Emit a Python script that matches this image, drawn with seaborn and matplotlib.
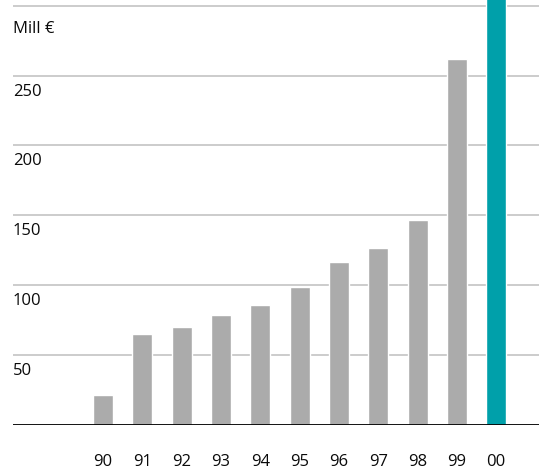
import matplotlib
matplotlib.use("Agg")
import matplotlib.pyplot as plt
import matplotlib.transforms as mtransforms
import seaborn as sns
import pandas as pd

# Annual values, Mill €
years = ["90", "91", "92", "93", "94", "95", "96", "97", "98", "99", "00"]
values = [22, 65, 70, 79, 86, 99, 117, 127, 147, 262, 340]
grid_values = [50, 100, 150, 200, 250, 300]
tick_labels = ["50", "100", "150", "200", "250"]
unit_label = "Mill €"

GRAY = "#ababab"
TEAL = "#00a0aa"
bar_colors = [GRAY] * (len(years) - 1) + [TEAL]

sns.set_theme(style="white")
plt.rcParams["font.family"] = ["Open Sans", "DejaVu Sans"]

df = pd.DataFrame({"year": years, "value": values})

fig = plt.figure(figsize=(5.39, 4.69), dpi=100)
ax = fig.add_axes([13 / 539, 43.7 / 469, 526 / 539, 425.3 / 469])

sns.barplot(data=df, x="year", y="value", hue="year", palette=bar_colors,
            legend=False, width=0.51, saturation=1, ax=ax, zorder=3)

ax.set_xlim(-2.29, 11.09)
ax.set_ylim(0, 304)

# horizontal reference lines
for g in grid_values:
    ax.axhline(g, color="#c4c4c4", lw=1.2, zorder=1)
ax.axhline(0, color="black", lw=1.3, zorder=4)

for s in ax.spines.values():
    s.set_visible(False)

ax.set_yticks([])
ax.set_xlabel("")
ax.set_ylabel("")
ax.tick_params(axis="x", length=0, pad=21, labelsize=12, labelcolor="#0a0a0a")

# value labels sitting just below their line, flush left
off = mtransforms.offset_copy(ax.transData, fig=fig, x=0, y=-16, units="dots")
blend = mtransforms.blended_transform_factory(ax.transAxes, off)
for lab in tick_labels:
    ax.text(0, float(lab), lab, transform=blend, ha="left", va="center",
            fontsize=12, color="#0a0a0a")
ax.text(0, 300, unit_label, transform=mtransforms.blended_transform_factory(
    ax.transAxes, mtransforms.offset_copy(ax.transData, fig=fig, x=0, y=-23, units="dots")),
    ha="left", va="center", fontsize=12, color="#0a0a0a")

fig.savefig("out.png", dpi=100)
